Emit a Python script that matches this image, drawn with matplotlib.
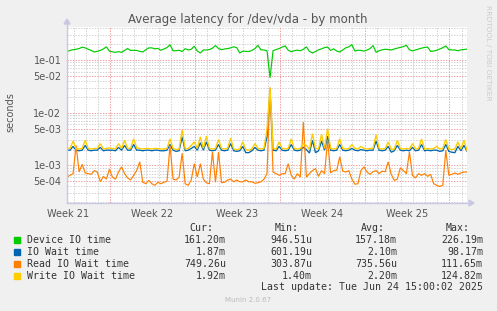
import matplotlib
matplotlib.use("Agg")
import matplotlib.pyplot as plt
from matplotlib.patches import Rectangle, Polygon
from matplotlib.lines import Line2D
import numpy as np

W, H = 497, 311
BG = "#F0F0F0"; TXT = "#555555"; LEG = "#333333"
GREEN = "#00CC00"; BLUE = "#0066B3"; ORANGE = "#FF8000"; YELLOW = "#FFCC00"
MINOR = "#D0D0D0"; MAJOR = "#F29A9A"; AXIS = "#C8C8E4"

# ---------- data (ms, one consolidated sample every 6 h, 33 days) ----------
STEP = 0.25
device_ms = [145, 152, 157, 160, 165, 175, 170, 160, 152, 142,
             146, 152, 162, 178, 147, 143, 140, 144, 140, 152,
             165, 152, 153, 152, 146, 142, 157, 170, 170, 163,
             166, 153, 162, 172, 195, 150, 150, 153, 145, 164,
             155, 160, 183, 148, 136, 155, 155, 158, 168, 188,
             165, 157, 162, 165, 170, 178, 172, 136, 147, 146,
             145, 152, 165, 190, 156, 155, 150, 46, 150, 158,
             165, 176, 185, 153, 144, 150, 154, 150, 160, 178,
             146, 136, 145, 156, 163, 172, 176, 152, 163, 148,
             142, 155, 170, 178, 196, 148, 153, 152, 148, 154,
             165, 188, 140, 150, 156, 160, 158, 155, 162, 168,
             174, 180, 190, 156, 149, 155, 162, 168, 173, 176,
             146, 148, 153, 162, 171, 185, 158, 155, 155, 150,
             156, 158, 161]
iowait_ms = [1.95, 1.95, 2.3, 1.95, 1.90, 1.95, 2.4, 1.95, 1.90, 1.95,
             1.95, 2.2, 1.90, 1.95, 1.95, 1.95, 1.90, 2.2, 1.95, 2.4,
             1.95, 1.95, 2.5, 1.95, 1.95, 1.90, 1.95, 1.95, 1.90, 1.95,
             1.95, 1.90, 1.90, 1.95, 2.5, 1.95, 1.85, 1.90, 3.5, 1.90,
             1.95, 2.1, 2.3, 1.95, 2.7, 1.95, 2.8, 1.95, 1.90, 1.95,
             2.5, 1.95, 1.90, 1.95, 2.6, 1.90, 1.85, 1.90, 2.3, 1.75,
             1.75, 1.90, 2.2, 1.95, 1.90, 1.95, 3.5, 25.0, 1.95, 1.90,
             2.3, 1.95, 1.90, 1.95, 2.5, 1.95, 1.90, 1.95, 2.2, 2.0,
             1.72, 3.0, 1.75, 1.90, 2.9, 1.95, 3.6, 1.95, 1.90, 1.95,
             2.5, 1.95, 1.90, 1.95, 2.1, 1.95, 1.90, 2.0, 1.95, 1.90,
             1.95, 1.95, 2.9, 1.95, 1.90, 1.95, 2.3, 1.78, 1.90, 2.4,
             1.95, 1.90, 1.95, 1.90, 2.2, 1.90, 1.95, 2.5, 1.90, 1.95,
             1.90, 1.95, 1.95, 1.85, 1.90, 2.5, 1.85, 1.78, 1.75, 2.3,
             1.90, 2.4, 1.87]
read_ms = [0.60, 0.65, 0.70, 2.4, 0.75, 1.05, 0.72, 0.70, 0.68, 0.80,
           0.75, 0.49, 0.62, 0.55, 0.85, 0.60, 0.55, 0.75, 0.94, 0.70,
           0.58, 0.53, 0.65, 0.80, 1.17, 0.48, 0.45, 0.52, 0.45, 0.42,
           0.48, 0.45, 0.48, 0.50, 2.4, 0.55, 0.53, 0.60, 1.7, 0.45,
           0.42, 0.53, 1.08, 0.60, 1.08, 0.55, 0.47, 0.45, 1.8, 0.48,
           1.8, 0.47, 0.48, 0.53, 0.55, 0.49, 0.53, 0.49, 0.49, 0.53,
           0.49, 0.49, 0.46, 0.47, 0.49, 0.55, 0.70, 30.0, 0.75, 0.70,
           0.65, 0.70, 0.70, 1.08, 0.65, 0.55, 0.70, 0.60, 6.7, 0.60,
           0.70, 0.80, 0.87, 0.62, 0.80, 0.70, 3.0, 0.72, 0.80, 0.81,
           1.46, 0.78, 0.75, 0.80, 0.55, 0.44, 0.45, 0.80, 0.94, 0.75,
           0.68, 0.76, 0.80, 0.70, 0.78, 0.76, 1.17, 0.68, 0.52, 0.55,
           0.90, 0.80, 0.70, 1.8, 0.65, 0.58, 0.70, 0.65, 0.70, 0.62,
           0.68, 0.45, 0.42, 0.40, 0.42, 1.95, 0.65, 0.68, 0.72, 0.68,
           0.72, 0.75, 0.75]
write_ms = [2.15, 2.10, 2.9, 2.10, 2.05, 2.10, 3.0, 2.10, 2.05, 2.10,
            2.10, 2.6, 2.05, 2.10, 2.15, 2.10, 2.05, 2.6, 2.10, 3.0,
            2.10, 2.10, 3.2, 2.15, 2.10, 2.05, 2.10, 2.10, 2.05, 2.10,
            2.10, 2.05, 2.05, 2.10, 3.2, 2.10, 2.00, 2.05, 4.7, 2.05,
            2.10, 2.4, 2.8, 2.10, 3.5, 2.10, 3.6, 2.10, 2.05, 2.10,
            3.1, 2.10, 2.05, 2.10, 3.3, 2.05, 2.00, 2.05, 2.8, 2.00,
            1.95, 2.05, 2.6, 2.10, 2.05, 2.10, 4.8, 30.0, 2.10, 2.05,
            2.8, 2.10, 2.05, 2.10, 3.2, 2.10, 2.05, 2.10, 2.6, 2.4,
            2.00, 4.0, 2.10, 2.05, 3.9, 2.10, 5.0, 2.10, 2.05, 2.10,
            3.2, 2.10, 2.05, 2.10, 2.5, 2.10, 2.05, 2.3, 2.10, 2.05,
            2.10, 2.10, 3.8, 2.10, 2.05, 2.10, 2.8, 2.00, 2.05, 3.0,
            2.10, 2.05, 2.10, 2.05, 2.6, 2.05, 2.10, 3.2, 2.05, 2.10,
            2.05, 2.10, 2.3, 2.05, 2.10, 3.1, 2.05, 2.00, 2.05, 2.8,
            2.05, 3.0, 1.92]

series_names = ["Device IO time", "IO Wait time", "Read IO Wait time", "Write IO Wait time"]
series_colors = [GREEN, BLUE, ORANGE, YELLOW]
cur_vals = ["161.20m", "1.87m", "749.26u", "1.92m"]
min_vals = ["946.51u", "601.19u", "303.87u", "1.40m"]
avg_vals = ["157.18m", "2.10m", "735.56u", "2.20m"]
max_vals = ["226.19m", "98.17m", "111.65m", "124.82m"]
week_labels = ["Week 21", "Week 22", "Week 23", "Week 24", "Week 25"]
ytick_vals = [5e-4, 1e-3, 5e-3, 1e-2, 5e-2, 1e-1]
ytick_labels = ["5e-04", "1e-03", "5e-03", "1e-02", "5e-02", "1e-01"]
SPAN = 33.0          # days shown
FIRST_WEEK = 3.55    # first Monday inside the window (days)

t = np.arange(len(device_ms)) * STEP

fig = plt.figure(figsize=(W / 100, H / 100), dpi=100, facecolor=BG)
ax = fig.add_axes([67 / W, 1 - 203 / H, 400 / W, 176 / H])
ax.set_facecolor("white")
ax.set_yscale("log")
ax.set_xlim(0, SPAN)
ax.set_ylim(1.94e-4, 0.423)

# grid: dotted, red for weeks / 1 and 5 of each decade
dots = (0, (1.4, 1.4))
for dec in [1e-4, 1e-3, 1e-2, 1e-1]:
    for m in range(1, 10):
        v = dec * m
        if 1.94e-4 < v < 0.423:
            ax.axhline(v, color=MAJOR if m in (1, 5) else MINOR, lw=0.7, ls=dots, zorder=1)
d = FIRST_WEEK % 1
while d < SPAN:
    wk = abs(((d - FIRST_WEEK) / 7) - round((d - FIRST_WEEK) / 7)) < 1e-6
    ax.axvline(d, color=MAJOR if wk else MINOR, lw=0.7, ls=dots, zorder=1)
    d += 1

widths = [0.85, 0.95, 0.85, 1.0]
for vals, col, lw in zip([device_ms, iowait_ms, read_ms, write_ms], series_colors, widths):
    ax.plot(t, np.array(vals) / 1000.0, color=col, lw=lw, zorder=3, solid_joinstyle="miter")

ax.set_yticks(ytick_vals, ytick_labels)
ax.yaxis.set_minor_locator(matplotlib.ticker.NullLocator())
ax.set_xticks([FIRST_WEEK - 3.5 + 7 * k for k in range(len(week_labels))], week_labels)
ax.tick_params(length=0, labelsize=7, colors=TXT, pad=4)
ax.tick_params(axis="x", pad=4)
for s in ["top", "right", "left", "bottom"]:
    ax.spines[s].set_visible(False)

# axes with arrow heads, rrdtool style
x0, y0 = 67 / W, 1 - 203 / H
fig.add_artist(Line2D([x0, x0], [y0, 1 - 24 / H], color=AXIS, lw=1.0))
fig.add_artist(Line2D([x0, 470 / W], [y0, y0], color=AXIS, lw=1.0))
fig.add_artist(Polygon([[64 / W, 1 - 24 / H], [70 / W, 1 - 24 / H], [67 / W, 1 - 19 / H]],
                       closed=True, color=AXIS))
fig.add_artist(Polygon([[469 / W, 1 - 200 / H], [469 / W, 1 - 206 / H], [474 / W, y0]],
                       closed=True, color=AXIS))

fig.text(248 / W, 1 - 19 / H, "Average latency for /dev/vda - by month",
         ha="center", va="center", fontsize=8.5, color=TXT)
fig.text(10 / W, 1 - 112 / H, "seconds", rotation=90, ha="center", va="center",
         fontsize=7, color=TXT)
fig.text(488 / W, 1 - 5 / H, "RRDTOOL / TOBI OETIKER", rotation=270, ha="center", va="top",
         fontsize=5.4, color="#CCCCCC")

# legend table
mono = dict(family="DejaVu Sans Mono", fontsize=7.1, color=LEG, va="center")
for hx, hd in zip([213, 299, 385, 470], ["Cur:", "Min:", "Avg:", "Max:"]):
    fig.text(hx / W, 1 - 228 / H, hd, ha="right", **mono)
for i, name in enumerate(series_names):
    yy = 240 + 12 * i
    fig.add_artist(Rectangle((14 / W, 1 - (yy + 2.7) / H), 5.5 / W, 5.5 / H,
                             transform=fig.transFigure, color=series_colors[i]))
    fig.text(27 / W, 1 - yy / H, name, ha="left", **mono)
    for cx, col in zip([226, 312, 397, 483], [cur_vals, min_vals, avg_vals, max_vals]):
        fig.text(cx / W, 1 - yy / H, col[i], ha="right", **mono)
fig.text(483 / W, 1 - 287 / H, "Last update: Tue Jun 24 15:00:02 2025", ha="right", **mono)
fig.text(248 / W, 1 - 300 / H, "Munin 2.0.67", ha="center", va="center", fontsize=5, color="#BBBBBB")

fig.savefig("out.png", dpi=100, facecolor=BG)
